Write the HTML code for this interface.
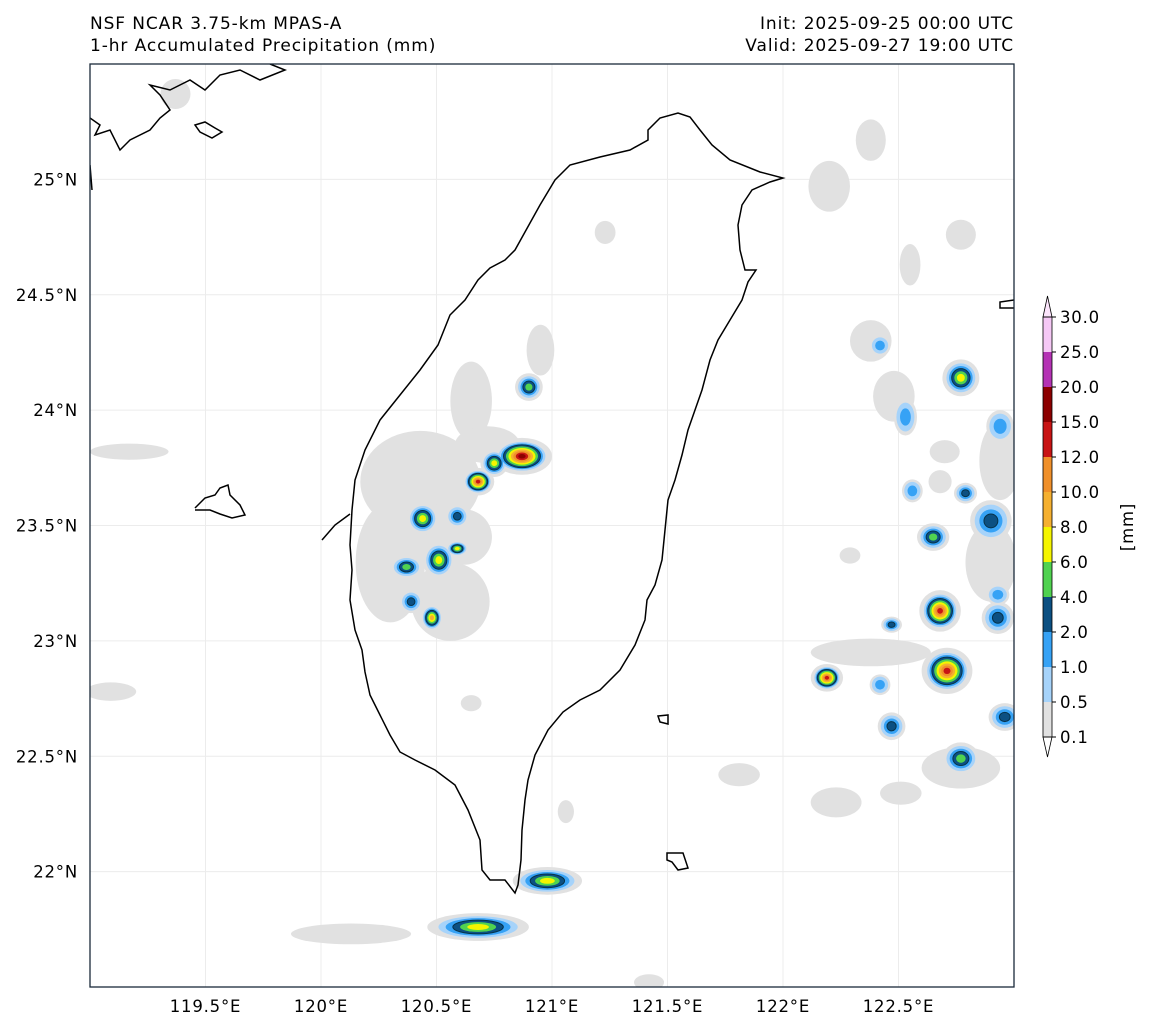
<!DOCTYPE html>
<html><head><meta charset="utf-8"><style>
body{margin:0;background:#fff;}
svg{display:block;font-family:"DejaVu Sans","Liberation Sans",sans-serif;}
.ttl{font-size:17px;letter-spacing:0.9px;}
.tk{font-size:16.5px;letter-spacing:0.8px;}
</style></head><body>
<svg id="chart" width="1150" height="1032" viewBox="0 0 1150 1032">
<defs><clipPath id="mapclip"><rect x="90" y="64" width="924" height="923"/></clipPath></defs>
<text class="ttl" x="90" y="29">NSF NCAR 3.75-km MPAS-A</text>
<text class="ttl" x="90" y="51">1-hr Accumulated Precipitation (mm)</text>
<text class="ttl" x="1014" y="29" text-anchor="end">Init: 2025-09-25 00:00 UTC</text>
<text class="ttl" x="1014" y="51" text-anchor="end">Valid: 2025-09-27 19:00 UTC</text>
<rect x="90" y="64" width="924" height="923" fill="#fff"/>
<g id="grid"></g>
<g id="precip" clip-path="url(#mapclip)"></g>
<g clip-path="url(#mapclip)" fill="none" stroke="#000" stroke-width="1.5">
<polygon points="648,130 660,118 678,113 690,117 700,130 712,145 730,160 760,172 783,178 770,182 752,190 742,205 738,225 740,250 745,270 756,270 748,282 742,300 730,320 718,340 710,360 702,390 695,410 688,430 682,455 675,480 668,500 665,530 662,560 655,585 647,600 645,620 635,645 620,670 600,690 580,700 563,712 548,730 535,755 528,780 525,800 522,830 521,860 518,885 515,893 505,880 490,880 482,870 480,840 468,810 455,785 435,770 415,760 400,752 390,735 380,715 370,695 365,672 362,650 355,630 350,600 352,570 350,545 352,510 355,480 365,450 380,420 400,395 420,370 438,345 450,315 465,300 478,280 490,268 505,260 515,250 525,232 540,205 555,180 570,165 600,157 630,150 648,140"/>
<polyline points="90,118 100,125 95,135 110,130 120,150 130,140 150,130 160,118 170,110 160,95 150,85 170,90 190,80 205,90 220,75 240,70 260,80 285,70 270,64"/>
<polyline points="195,508 205,498 215,495 220,488 228,485 230,495 240,505 245,515 232,518 220,514 210,510 195,510"/>
<polygon points="667,853 683,853 688,868 678,870 672,862 667,860"/>
<polygon points="658,716 668,715 668,724 660,722"/>
<polygon points="195,125 205,122 215,128 222,132 212,138 200,132"/>
<polyline points="90,165 92,190"/>
<polyline points="1014,300 1000,302 1000,308 1014,308"/>
<polyline points="322,540 335,525 350,514"/>
</g>
<rect x="90" y="64" width="924" height="923" fill="none" stroke="#1a2a3a" stroke-width="1.3"/>
<g id="axes" class="tk"></g>
<g id="cbar" class="tk"></g>
</svg>
<script>
const lonTicks=[119.5,120,120.5,121,121.5,122,122.5];
const latTicks=[22,22.5,23,23.5,24,24.5,25];
const levels=["0.1","0.5","1.0","2.0","4.0","6.0","8.0","10.0","12.0","15.0","20.0","25.0","30.0"];
const colors=["#e1e1e1","#a6d3fa","#36a2f5","#0c5082","#50d250","#f5f500","#f5b030","#f0902a","#c81414","#8c0000","#b432b4","#f5c8f5"];
const blobLon=[120.43,120.65,120.95,120.30,120.56,119.17,119.09,122.20,122.77,122.55,122.38,122.48,122.70,122.68,122.29,122.38,122.77,122.23,121.81,122.51,120.13,121.23,119.37,122.38,121.42,121.06,122.94,122.90,120.65,120.72,120.62,120.50,
120.90,120.87,120.75,120.68,120.44,120.59,120.51,120.59,120.37,120.39,120.48,120.98,120.68,122.77,122.53,122.94,122.56,122.79,122.90,122.65,122.68,122.47,122.93,122.71,122.19,122.42,122.47,122.96,122.77,122.42,122.93];
const blobLat=[23.69,24.04,24.26,23.34,23.17,23.82,22.78,24.97,24.76,24.63,24.30,24.06,23.82,23.69,23.37,22.95,22.45,22.30,22.42,22.34,21.73,24.77,25.37,25.17,21.52,22.26,23.78,23.34,22.73,23.85,23.45,23.45,
24.10,23.80,23.77,23.69,23.53,23.54,23.35,23.40,23.32,23.17,23.10,21.96,21.76,24.14,23.97,23.93,23.65,23.64,23.52,23.45,23.13,23.07,23.10,22.87,22.84,22.81,22.63,22.67,22.49,24.28,23.20];
const blobRx=[.26,.09,.06,.15,.17,.17,.11,.09,.065,.045,.09,.09,.065,.05,.045,.26,.17,.11,.09,.09,.26,.045,.065,.065,.065,.035,.09,.11,.045,.14,.12,.12,
.06,.13,.06,.07,.07,.05,.07,.05,.07,.05,.05,.15,.22,.08,.05,.06,.045,.05,.09,.07,.09,.045,.07,.11,.07,.045,.06,.07,.08,.045,.05];
const blobRy=[.22,.17,.11,.26,.17,.035,.04,.11,.065,.09,.09,.11,.05,.05,.035,.06,.09,.065,.05,.05,.045,.05,.065,.09,.035,.05,.17,.17,.035,.08,.12,.14,
.06,.08,.06,.06,.07,.05,.08,.035,.05,.05,.06,.06,.06,.08,.08,.07,.05,.045,.09,.06,.09,.035,.07,.10,.06,.045,.06,.06,.07,.045,.045];
const blobPeak=[0,0,0,0,0,0,0,0,0,0,0,0,0,0,0,0,0,0,0,0,0,0,0,0,0,0,0,0,0,0,0,0,
4,9,5,8,5,3,5,5,4,3,6,5,5,5,2,2,2,3,3,4,8,3,3,8,8,2,3,3,4,2,2];

const NS="http://www.w3.org/2000/svg";
const x=lon=>90+(lon-119)*231;
const y=lat=>64+(25.5-lat)*230.75;
function mk(tag,attrs,parent){const e=document.createElementNS(NS,tag);for(const k in attrs)e.setAttribute(k,attrs[k]);parent.appendChild(e);return e;}
const grid=document.getElementById('grid'),axes=document.getElementById('axes'),pg=document.getElementById('precip'),cb=document.getElementById('cbar');
lonTicks.forEach(v=>{
  const l=mk('line',{x1:x(v),x2:x(v),y1:64,y2:987,stroke:'#ececec','stroke-width':1},grid);
  
  
  const t=mk('text',{x:x(v),y:1012,'text-anchor':'middle'},axes);t.textContent=v+'°E';
  
  
});
latTicks.forEach(v=>{
  const l=mk('line',{x1:90,x2:1014,y1:y(v),y2:y(v),stroke:'#ececec','stroke-width':1},grid);
  
  
  const t=mk('text',{x:78,y:y(v)+6,'text-anchor':'end'},axes);t.textContent=v+'°N';
  
  
});
for(let k=0;k<colors.length;k++){
  for(let i=0;i<blobLon.length;i++){
    const p=blobPeak[i];if(k>p)continue;
    const f=k===0?1:0.78*(1-(k-1)/(p+0.5));
    const e=mk('ellipse',{cx:x(blobLon[i]),cy:y(blobLat[i]),rx:blobRx[i]*231*f,ry:blobRy[i]*230.75*f,fill:colors[k]},pg);
    if(k===3)e.setAttribute('stroke','#06324a');
    
    
  }
}
const cbx=1043,cbw=9,cbTop=317,seg=35;
colors.forEach((c,k)=>{
  const yy=cbTop+(colors.length-1-k)*seg;
  const r=mk('rect',{x:cbx,y:yy,width:cbw,height:seg,fill:c},cb);
  
  
});
const cbBot=cbTop+colors.length*seg;
const tipT=mk('polygon',{points:`${cbx},${cbTop} ${cbx+cbw/2},${cbTop-21} ${cbx+cbw},${cbTop}`,fill:'#fbe4fb',stroke:'#000','stroke-width':0.8},cb);


const tipB=mk('polygon',{points:`${cbx},${cbBot} ${cbx+cbw/2},${cbBot+20} ${cbx+cbw},${cbBot}`,fill:'#fff',stroke:'#000','stroke-width':0.8},cb);


const outline=mk('rect',{x:cbx,y:cbTop,width:cbw,height:colors.length*seg,fill:'none',stroke:'#000','stroke-width':0.8},cb);


levels.forEach((lv,k)=>{
  const yy=cbTop+(levels.length-1-k)*seg;
  mk('line',{x1:cbx+cbw,x2:cbx+cbw+4,y1:yy,y2:yy,stroke:'#000'},cb);
  const t=mk('text',{x:cbx+17,y:yy+6},cb);t.textContent=lv;
  
  
});
const u=mk('text',{x:1133,y:527,'text-anchor':'middle',transform:'rotate(-90 1133 527)'},cb);u.textContent='[mm]';


</script>
</body></html>
